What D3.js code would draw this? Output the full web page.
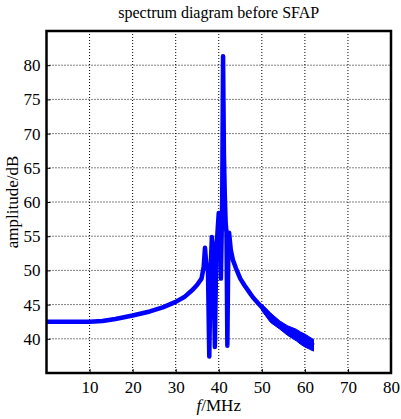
<!DOCTYPE html>
<html>
<head>
<meta charset="utf-8">
<script src="https://cdn.jsdelivr.net/npm/d3@7"></script>
<style>
  html, body { margin: 0; padding: 0; background: #fff; }
  svg { display: block; }
</style>
</head>
<body>
<div id="chart"></div>
<script>
// ---- data ----
const title = "spectrum diagram before SFAP";
const yLabel = "amplitude/dB";
const xTicks = [10, 20, 30, 40, 50, 60, 70, 80];
const yTicks = [40, 45, 50, 55, 60, 65, 70, 75, 80];

// spectrum trace (centre line)
const freqMHz = [
  0, 5, 10, 13, 16, 20, 24, 27, 30, 32, 34, 35, 36,
  36.5, 36.8, 37.1, 37.5, 37.8, 38.1, 38.4, 38.7, 39.1, 39.4, 39.7, 40.0,
  40.3, 40.5, 40.8, 41.0, 41.2, 41.4, 41.6, 41.8, 42.0, 42.2, 42.4,
  42.8, 43.3, 44, 45, 46, 47, 48, 49, 50, 51, 52, 53, 54,
  55, 56, 57, 58, 59, 60, 61, 62
];
const amplitudeDB = [
  42.5, 42.5, 42.5, 42.6, 42.9, 43.4, 44.0, 44.6, 45.4, 46.1, 47.2, 47.9, 48.8,
  50.5, 53.3, 51.0, 50.0, 37.4, 50.0, 54.9, 53.0, 38.8, 52.0, 55.5, 58.4,
  57.0, 48.8, 60.0, 81.3, 67.0, 61.0, 57.0, 55.5, 39.0, 52.0, 55.5,
  53.0, 51.5, 50.3, 48.8, 47.8, 46.9, 46.0, 45.3, 44.6, 44.0, 43.2, 42.6, 42.1,
  41.6, 41.2, 40.9, 40.5, 40.1, 39.7, 39.4, 39.0
];

// fluctuation envelope of the trace at the high-frequency end
const bandFreq = [50, 52, 54.2, 56, 58, 59, 60, 61, 62];
const bandHigh = [45.1, 43.8, 42.6, 41.9, 41.4, 41.0, 40.7, 40.3, 39.9];
const bandLow  = [44.1, 42.4, 41.4, 40.5, 39.7, 39.2, 38.8, 38.5, 38.2];

// ---- layout ----
const W = 401, H = 419;
const m = { left: 46.5, right: 10, top: 31, bottom: 46 };
const pw = W - m.left - m.right, ph = H - m.top - m.bottom;
const FONT = "'Liberation Serif', 'Times New Roman', serif";

const svg = d3.select("#chart").append("svg").attr("width", W).attr("height", H);
const g = svg.append("g").attr("transform", `translate(${m.left},${m.top})`);

const x = d3.scaleLinear().domain([0, 80]).range([0, pw]);
const y = d3.scaleLinear().domain([35, 85]).range([ph, 0]);

// grid
g.append("g").selectAll("line").data(xTicks.filter(t => t < 80)).join("line")
  .attr("x1", d => x(d)).attr("x2", d => x(d)).attr("y1", 0).attr("y2", ph)
  .attr("stroke", "#000").attr("stroke-width", 1).attr("stroke-dasharray", "1,2");
g.append("g").selectAll("line").data(yTicks).join("line")
  .attr("y1", d => y(d)).attr("y2", d => y(d)).attr("x1", 0).attr("x2", pw)
  .attr("stroke", "#000").attr("stroke-width", 1).attr("stroke-dasharray", "1,2");

// envelope band
const band = bandFreq.map((f, i) => [f, bandLow[i], bandHigh[i]]);
g.append("path").datum(band)
  .attr("fill", "#0000ff").attr("stroke", "#0000ff").attr("stroke-width", 1)
  .attr("d", d3.area().x(d => x(d[0])).y0(d => y(d[1])).y1(d => y(d[2])));

// data trace
const pts = freqMHz.map((f, i) => [f, amplitudeDB[i]]);
g.append("path").datum(pts)
  .attr("fill", "none").attr("stroke", "#0000ff").attr("stroke-width", 4.5)
  .attr("stroke-linejoin", "round").attr("stroke-linecap", "butt")
  .attr("d", d3.line().x(d => x(d[0])).y(d => y(d[1])));

// axes (inward ticks, labels)
const xAxis = d3.axisBottom(x).tickValues(xTicks).tickSize(-4).tickPadding(8);
const yAxis = d3.axisLeft(y).tickValues(yTicks).tickSize(-4).tickPadding(6);
const gx = g.append("g").attr("transform", `translate(0,${ph})`).call(xAxis);
const gy = g.append("g").call(yAxis);
[gx, gy].forEach(a => {
  a.attr("font-family", null).attr("font-size", null);
  a.select(".domain").remove();
  a.selectAll(".tick line").attr("stroke", "#000").attr("stroke-width", 1);
  a.selectAll("text").style("font-family", FONT).style("font-size", "17px").attr("fill", "#000");
});

// frame
g.append("rect").attr("x", 0).attr("y", 0).attr("width", pw).attr("height", ph)
  .attr("fill", "none").attr("stroke", "#000").attr("stroke-width", 2.5);

// title
svg.append("text").attr("x", m.left + pw / 2).attr("y", 18).attr("text-anchor", "middle")
  .style("font-family", FONT).style("font-size", "16px").text(title);

// x label
const xl = svg.append("text").attr("x", m.left + pw / 2).attr("y", 411)
  .attr("text-anchor", "middle").style("font-family", FONT).style("font-size", "17px");
xl.append("tspan").attr("font-style", "italic").text("f");
xl.append("tspan").text("/MHz");

// y label
svg.append("text").attr("transform", `translate(18,${m.top + ph / 2}) rotate(-90)`)
  .attr("text-anchor", "middle").style("font-family", FONT).style("font-size", "17px").text(yLabel);
</script>
</body>
</html>
